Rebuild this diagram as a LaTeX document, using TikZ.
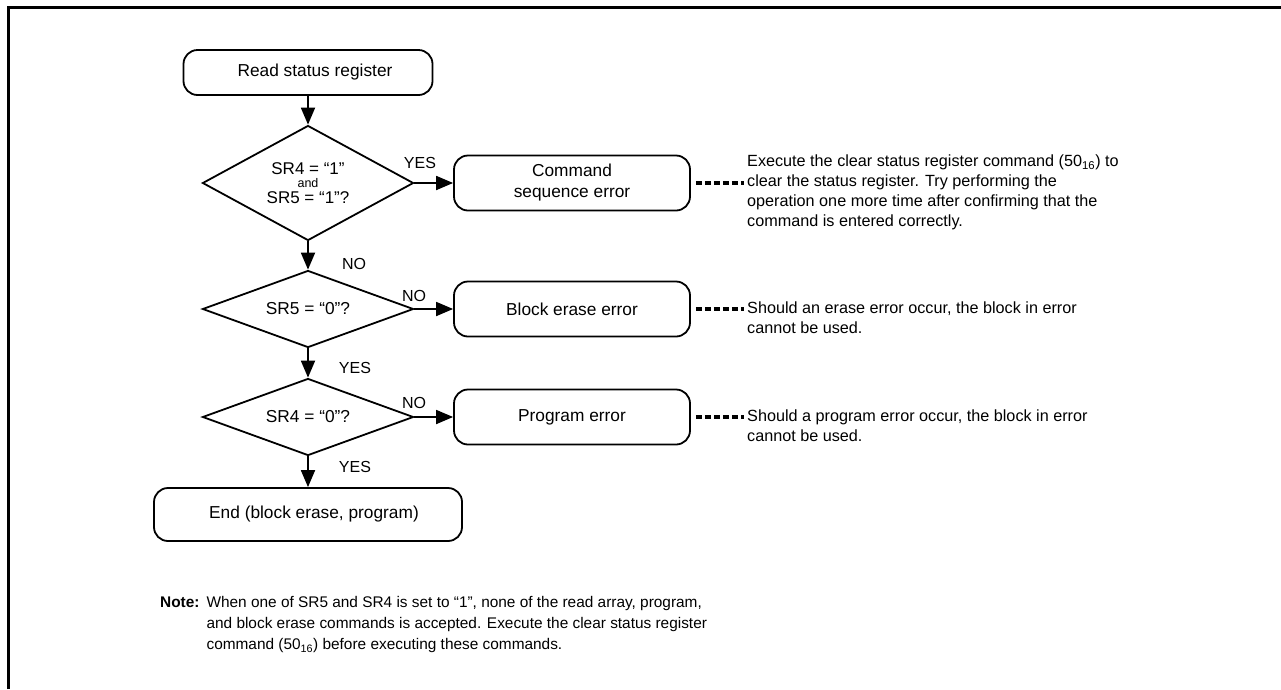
\documentclass[tikz,border=0pt]{standalone}
\usepackage{fontspec}
\setmainfont{Liberation Sans}
\usetikzlibrary{shapes.geometric,arrows.meta}
\newcommand\boxfs{\fontsize{17.3}{21}\selectfont}
\newcommand\notefs{\fontsize{16.2}{20}\selectfont}
\newcommand\lblfs{\fontsize{16}{20}\selectfont}
\newcommand\bottomfs{\fontsize{15.4}{21}\selectfont}
\begin{document}
\begin{tikzpicture}[x=1pt,y=-1pt,
  box/.style={draw,line width=1.8pt,rounded corners=14pt,minimum height=55pt,minimum width=236pt,inner sep=0pt,align=center,font=\boxfs},
  dia/.style={draw,line width=1.8pt,diamond,inner sep=0pt,align=center,font=\boxfs},
  arr/.style={line width=1.8pt,-{Triangle[length=17pt,width=14pt]}},
  lbl/.style={font=\lblfs,inner sep=0pt},
  note/.style={font=\notefs,align=left,inner sep=0pt,anchor=north west},
  dashline/.style={line width=3.5pt,dash pattern=on 6pt off 3pt,shorten <=5pt,shorten >=3pt}]
\useasboundingbox (0,0) rectangle (1281,689);
\fill[white] (0,0) rectangle (1281,689);
\draw[line width=3pt] (8.5,689) -- (8.5,7.5) -- (1285,7.5);

\node[box,minimum width=249pt,minimum height=45pt] (read) at (308,72.5) {\hspace*{14pt}Read status register};
\node[dia,minimum width=211pt,minimum height=115pt,aspect=1.83,font=\fontsize{17}{15}\selectfont] (d1) at (308,183)
  {SR4 = “1”\\[-2pt]{\fontsize{12.5}{15}\selectfont and}\\[1.5pt]SR5 = “1”?};
\node[box] (cmd) at (572,183) {Command\\sequence error};
\node[dia,minimum width=211pt,minimum height=77pt,aspect=2.74] (d2) at (308,309) {SR5 = “0”?};
\node[box] (blk) at (572,309) {Block erase error};
\node[dia,minimum width=211pt,minimum height=77pt,aspect=2.74] (d3) at (308,417) {SR4 = “0”?};
\node[box] (prg) at (572,417) {Program error};
\node[box,minimum width=308pt,minimum height=53pt] (end) at (308,514.5) {\hspace*{12pt}End (block erase, program)};

\draw[arr] (read) -- (d1);
\draw[arr] (d1) -- (d2);
\draw[arr] (d2) -- (d3);
\draw[arr] (d3) -- (end);
\draw[arr] (d1) -- (cmd);
\draw[arr] (d2) -- (blk);
\draw[arr] (d3) -- (prg);

\node[lbl] (y1) at (420,163) {YES};
\node[lbl] (n1) at (354,264) {NO};
\node[lbl] (n2) at (414,296) {NO};
\node[lbl] (y2) at (355,368) {YES};
\node[lbl] (n3) at (414,403) {NO};
\node[lbl] (y3) at (355,467) {YES};

\node[note] (t1) at (747,155) {Execute the clear status register command (50\textsubscript{16}) to\\clear the status register. Try performing the\\operation one more time after confirming that the\\command is entered correctly.};
\node[note] (t2) at (747,302) {Should an erase error occur, the block in error\\cannot be used.};
\node[note] (t3) at (747,410) {Should a program error occur, the block in error\\cannot be used.};

\draw[dashline] (cmd.east) -- (cmd.east -| t1.west);
\draw[dashline] (blk.east) -- (blk.east -| t2.west);
\draw[dashline] (prg.east) -- (prg.east -| t3.west);

\node[anchor=north west,inner sep=0pt] (note) at (160,593) {\bottomfs\begin{tabular}{@{}l@{\hspace{7pt}}l@{}}\textbf{Note:} & When one of SR5 and SR4 is set to “1”, none of the read array, program,\\ & and block erase commands is accepted. Execute the clear status register\\ & command (50\textsubscript{16}) before executing these commands.\end{tabular}};
\end{tikzpicture}
\end{document}
